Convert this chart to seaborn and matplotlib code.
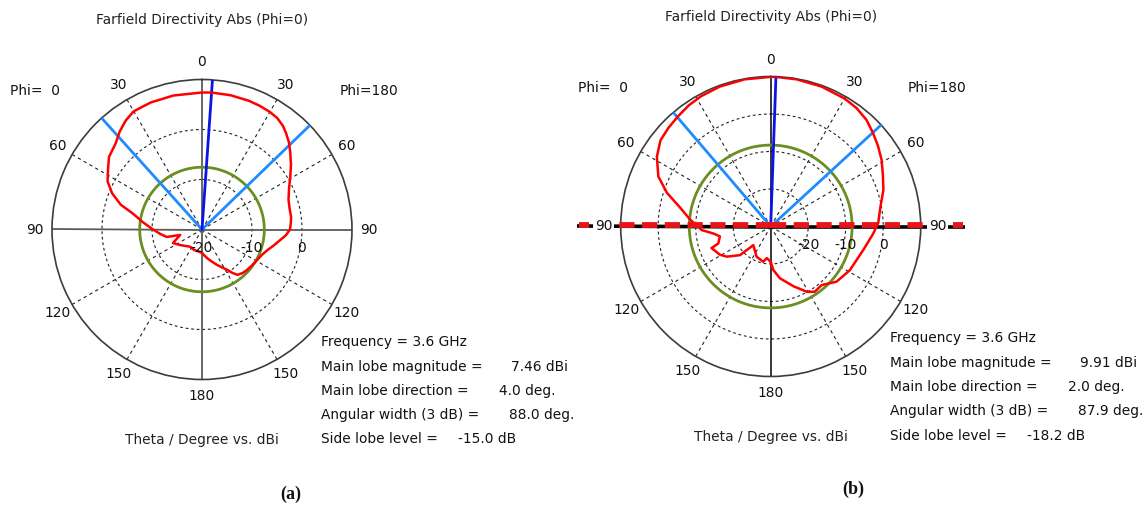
import numpy as np
import matplotlib
matplotlib.use("Agg")
import matplotlib.pyplot as plt
import matplotlib.transforms as mtransforms
import seaborn as sns

# ---------------- data ----------------
# panel (a): theta (deg, clockwise from top, Phi=180 side positive) vs directivity (dBi)
theta_a = [-180, -175, -160, -145, -125, -115, -104, -102, -96, -90, -83, -77, -73, -68,
           -63, -57, -52, -45, -40, -35, -30, -22, -12, 0, 4, 12, 20, 25, 30, 34, 38, 41,
           45, 49, 54, 59, 65, 71, 77, 82, 86, 90, 94, 98, 103, 107, 113, 119, 126, 132,
           137, 142, 145, 148, 152, 157, 163, 170, 175]
dir_a = [-15.3, -15.5, -15.6, -15.8, -14.6, -13.6, -15.5, -12.8, -11.6, -10.2, -8.1, -5.8,
         -3.0, -0.6, 1.2, 2.4, 3.6, 4.4, 5.6, 6.6, 7.3, 7.4, 7.4, 7.4, 7.46, 7.45, 7.4, 7.3,
         7.15, 6.9, 6.3, 5.6, 4.6, 3.4, 2.0, 0.6, -0.8, -1.7, -2.0, -2.0, -2.2, -2.4, -3.2,
         -4.3, -5.4, -6.2, -7.0, -7.4, -7.7, -7.9, -8.1, -8.5, -9.4, -10.5, -11.4, -12.3,
         -13.3, -14.2, -14.8]

# panel (b)
theta_b = [-180, -173, -168, -155, -137, -133, -124.5, -119, -110, -108, -101, -97, -93, -85,
           -78, -72, -66, -58.5, -52, -46, -40, -34, -28, -20, -10, 0, 2, 10, 20, 30, 36,
           42, 47.4, 53, 59, 65, 72, 80, 88, 94, 104, 119, 130, 139, 146, 151, 159, 170, 176.6]
dir_b = [-20.6, -21.5, -20.4, -21.1, -23.2, -18.8, -15.8, -14.5, -13.2, -15.3, -16.2, -14.6,
         -11.6, -8.4, -5.2, -0.9, 2.8, 5.6, 7.3, 7.9, 8.4, 9.0, 9.4, 9.7, 9.85, 9.9, 9.91,
         9.85, 9.7, 9.4, 9.0, 8.2, 7.0, 5.8, 4.5, 3.0, 1.6, -0.3, -1.3, -2.6, -4.5, -5.9,
         -7.1, -9.3, -9.0, -10.1, -12.9, -16.0, -18.4]

freq = "3.6 GHz"
main_mag = [7.46, 9.91]
main_dir = [4.0, 2.0]
ang_width = [88.0, 87.9]
sll = [-15.0, -18.2]
beam_edges = [[-42.0, 46.0], [-40.5, 47.4]]
r_limits = [[-20, 10], [-30, 10]]
r_grid = [[-10, 0], [-20, -10, 0]]
r_tick_labels = [[-20, -10, 0], [-20, -10, 0]]
angle_ticks = [0, 30, 60, 90, 120, 150, 180]
panel_tags = ["(a)", "(b)"]

# ---------------- figure ----------------
sns.set_style("white")
plt.rcParams["font.family"] = ["DejaVu Sans"]
W, H = 1146, 505
fig = plt.figure(figsize=(W / 100, H / 100), dpi=100)
fig.patch.set_facecolor("white")


def fx(x):
    return x / W


def fy(y):
    return 1 - y / H


FS = 9.9
R = 150
centers = [(202, 229.5), (770.7, 226.5)]
text_x = [321, 890]
text_y = [[342, 367, 391, 415, 439], [338, 363, 387, 411, 436]]
val_off = [190, 178, 188, 137]
phi_pos = [[(35, 91), (369, 91)], [(603, 88), (937, 88)]]
title_y = [20, 17]
xlabel_y = [440, 437]
tag_pos = [(291, 494), (853, 489)]

datasets = [(theta_a, dir_a), (theta_b, dir_b)]

for i in range(2):
    cx, cy = centers[i]
    rmin, rmax = r_limits[i]
    ax = fig.add_axes([fx(cx - R), (H - cy - R) / H, 2 * R / W, 2 * R / H], projection="polar")
    ax.set_theta_zero_location("N")
    ax.set_theta_direction(-1)
    ax.set_ylim(rmin, rmax)
    ax.set_xticks([])
    ax.set_yticks([])
    ax.grid(False)
    ax.set_facecolor("none")
    ax.spines["polar"].set_edgecolor("#3c3c3c")
    ax.spines["polar"].set_linewidth(1.2)

    tt = np.linspace(0, 2 * np.pi, 721)
    dash = (0, (2.5, 2.5))
    for rg in r_grid[i]:
        ax.plot(tt, np.full_like(tt, rg), color="#222222", lw=0.8, ls=dash, zorder=1)
    for a in [30, 60, 120, 150]:
        for s in (-1, 1):
            th = np.deg2rad(s * a)
            ax.plot([th, th], [rmin, rmax], color="#222222", lw=0.8, ls=(0, (3, 3)), zorder=1)

    # main axes through centre
    if i == 0:
        for a in (0, 180, 90, -90):
            th = np.deg2rad(a)
            ax.plot([th, th], [rmin, rmax], color="#5a5a5a", lw=1.3, zorder=2)
    else:
        for a in (0, 180):
            th = np.deg2rad(a)
            ax.plot([th, th], [rmin, rmax], color="black", lw=1.1, zorder=2)
        r_ext = rmin + 194 / R * (rmax - rmin)
        for a in (90, -90):
            th = np.deg2rad(a)
            ax.plot([th, th], [rmin, r_ext], color="black", lw=2.6, zorder=2,
                    clip_on=False, solid_capstyle="butt")
        up = mtransforms.offset_copy(ax.transData, fig=fig, x=0, y=1.5, units="dots")
        for a in (90, -90):
            th = np.deg2rad(a)
            ax.plot([th, th], [rmin, r_ext - 0.5], color="#e8141a", lw=4.2,
                    ls=(0, (2.6, 1.3)), zorder=6, clip_on=False, transform=up,
                    dash_capstyle="butt")

    # side lobe level circle
    ax.plot(tt, np.full_like(tt, main_mag[i] + sll[i]), color="#6b8e23", lw=2.0, zorder=3)

    # beam edges and main lobe direction
    for e in beam_edges[i]:
        th = np.deg2rad(e)
        ax.plot([th, th], [rmin, rmax], color="#1e8cff", lw=2.0, zorder=4)
    th = np.deg2rad(main_dir[i])
    ax.plot([th, th], [rmin, rmax], color="#0a14e6", lw=2.0, zorder=4)

    # pattern
    th_d, d_d = datasets[i]
    th_closed = np.deg2rad(np.r_[th_d, th_d[0] + 360])
    d_closed = np.r_[d_d, d_d[0]]
    sns.lineplot(x=th_closed, y=d_closed, ax=ax, sort=False, color="#ff0000", lw=1.8,
                 zorder=5, estimator=None)
    ax.set_xlabel("")
    ax.set_ylabel("")
    ax.set_ylim(rmin, rmax)

    # angle labels
    r_lab = rmin + 167 / R * (rmax - rmin)
    for a in angle_ticks:
        sides = (1,) if a in (0, 180) else (-1, 1)
        for s in sides:
            kw = {}
            if i == 1 and a == 90:
                kw["bbox"] = dict(boxstyle="square,pad=0.12", fc="white", ec="none")
            ax.text(np.deg2rad(s * a), r_lab, str(a), ha="center", va="center",
                    fontsize=FS, color="#111111", zorder=8, **kw)

    # radial labels
    down = mtransforms.offset_copy(ax.transData, fig=fig, x=0, y=-18.5, units="dots")
    for rv in r_tick_labels[i]:
        ax.text(np.deg2rad(90), rv, str(rv), ha="center", va="center", fontsize=FS,
                color="#111111", transform=down, zorder=8)

    # texts
    fig.text(fx(cx), fy(title_y[i]), "Farfield Directivity Abs (Phi=0)", ha="center",
             va="center", fontsize=FS, color="#222222")
    fig.text(fx(cx), fy(xlabel_y[i]), "Theta / Degree vs. dBi", ha="center", va="center",
             fontsize=FS, color="#222222")
    (p0x, p0y), (p1x, p1y) = phi_pos[i]
    fig.text(fx(p0x), fy(p0y), "Phi=  0", ha="center", va="center", fontsize=FS, color="#111111")
    fig.text(fx(p1x), fy(p1y), "Phi=180", ha="center", va="center", fontsize=FS, color="#111111")

    labels = ["Frequency = " + freq, "Main lobe magnitude =", "Main lobe direction =",
              "Angular width (3 dB) =", "Side lobe level ="]
    values = [f"{main_mag[i]:.2f} dBi", f"{main_dir[i]:.1f} deg.", f"{ang_width[i]:.1f} deg.",
              f"{sll[i]:.1f} dB"]
    for k, lab in enumerate(labels):
        fig.text(fx(text_x[i]), fy(text_y[i][k]), lab, ha="left", va="center", fontsize=FS,
                 color="#111111")
    for k, v in enumerate(values):
        fig.text(fx(text_x[i] + val_off[k]), fy(text_y[i][k + 1]), v, ha="left", va="center",
                 fontsize=FS, color="#111111")

    fig.text(fx(tag_pos[i][0]), fy(tag_pos[i][1]), panel_tags[i], ha="center", va="center",
             fontsize=13, fontweight="bold", family="Liberation Serif", color="#111111")

fig.savefig("out.png", dpi=100, facecolor="white")
